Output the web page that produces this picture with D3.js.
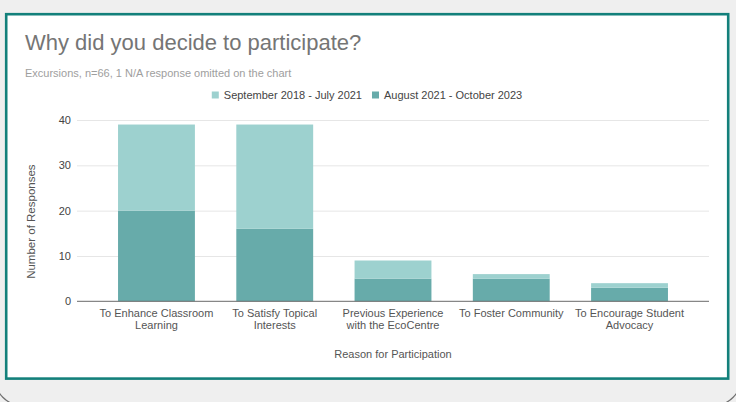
<!DOCTYPE html>
<html>
<head>
<meta charset="utf-8">
<script src="https://cdn.jsdelivr.net/npm/d3@7/dist/d3.min.js"></script>
<style>
  html, body { margin: 0; padding: 0; background: #efefef; }
  svg { display: block; }
  text { font-family: "Liberation Sans", Arial, sans-serif; }
</style>
</head>
<body>
<svg id="chart" width="736" height="402"></svg>
<script>
// Reasons given for joining an excursion, split by program period
const categories = [
  "To Enhance Classroom Learning",
  "To Satisfy Topical Interests",
  "Previous Experience with the EcoCentre",
  "To Foster Community",
  "To Encourage Student Advocacy"
];
const seriesNames = ["September 2018 - July 2021", "August 2021 - October 2023"];
const earlierPeriod = [19, 23, 4, 1, 1];
const laterPeriod = [20, 16, 5, 5, 3];
const yTicks = [0, 10, 20, 30, 40];

const svg = d3.select("#chart");
const W = 736, H = 402;

// page background and card
svg.append("rect").attr("width", W).attr("height", H).attr("fill", "#efefef");
svg.append("rect")
  .attr("x", -6).attr("y", -60).attr("width", 748).attr("height", 466)
  .attr("rx", 30).attr("ry", 30)
  .attr("fill", "none").attr("stroke", "#6f6f6f").attr("stroke-width", 1.2);
svg.append("rect")
  .attr("x", 6.2).attr("y", 14.2).attr("width", 722).attr("height", 364.4)
  .attr("fill", "#ffffff").attr("stroke", "#13807b").attr("stroke-width", 2.6);

// title block
svg.append("text").attr("x", 25).attr("y", 50)
  .attr("font-size", 22).attr("fill", "#757575")
  .text("Why did you decide to participate?");
svg.append("text").attr("x", 25).attr("y", 76.5)
  .attr("font-size", 11).attr("fill", "#9e9e9e")
  .text("Excursions, n=66, 1 N/A response omitted on the chart");

const colors = ["#9dd1cf", "#67abaa"];

// scales
const plot = { left: 77, right: 709, top: 120, bottom: 301.3 };
const x = d3.scaleBand().domain(categories)
  .range([plot.left, plot.right]).paddingInner(0.35).paddingOuter(0.347);
const y = d3.scaleLinear().domain([0, 40]).range([plot.bottom, plot.top]);

// gridlines via axis
const grid = svg.append("g")
  .attr("transform", `translate(${plot.left},0)`)
  .call(d3.axisLeft(y).tickValues(yTicks.filter(d => d > 0))
    .tickSize(-(plot.right - plot.left)).tickFormat(""));
grid.select(".domain").remove();
grid.selectAll("line").attr("stroke", "#e6e6e6").attr("stroke-width", 1);

// y tick labels
const yAxis = svg.append("g")
  .attr("transform", `translate(${plot.left - 6},0)`)
  .call(d3.axisLeft(y).tickValues(yTicks).tickSize(0).tickPadding(0));
yAxis.select(".domain").remove();
yAxis.selectAll("text")
  .attr("font-size", 11).attr("fill", "#444444")
  .attr("font-family", "Liberation Sans, Arial, sans-serif");

// stacked bars
const rows = categories.map((c, i) => ({ cat: c, later: laterPeriod[i], earlier: earlierPeriod[i] }));
const stack = d3.stack().keys(["later", "earlier"])(rows);
const stackColors = { later: colors[1], earlier: colors[0] };

svg.append("g").selectAll("g").data(stack).join("g")
  .attr("fill", d => stackColors[d.key])
  .selectAll("rect").data(d => d).join("rect")
  .attr("x", d => x(d.data.cat))
  .attr("width", x.bandwidth())
  .attr("y", d => y(d[1]))
  .attr("height", d => y(d[0]) - y(d[1]));

// baseline
svg.append("line")
  .attr("x1", plot.left).attr("x2", plot.right)
  .attr("y1", y(0)).attr("y2", y(0))
  .attr("stroke", "#6a6a6a").attr("stroke-width", 1);

// x axis category labels, wrapped to the band step
const xAxis = svg.append("g")
  .attr("transform", `translate(0,${plot.bottom})`)
  .call(d3.axisBottom(x).tickSize(0).tickPadding(0));
xAxis.select(".domain").remove();
xAxis.selectAll("text")
  .attr("font-size", 11).attr("fill", "#555555")
  .attr("font-family", "Liberation Sans, Arial, sans-serif")
  .attr("dy", null).attr("y", null)
  .each(function (d) {
    const t = d3.select(this);
    const words = d.split(" ");
    t.text(null);
    const maxW = x.step() - 2;
    let line = [];
    let lineNo = 0;
    let tspan = t.append("tspan").attr("x", 0).attr("y", 16);
    for (const w of words) {
      line.push(w);
      tspan.text(line.join(" "));
      if (tspan.node().getComputedTextLength() > maxW && line.length > 1) {
        line.pop();
        tspan.text(line.join(" "));
        line = [w];
        lineNo++;
        tspan = t.append("tspan").attr("x", 0).attr("y", 16 + lineNo * 12).text(w);
      }
    }
  });

// axis titles
svg.append("text")
  .attr("transform", `translate(34.5,${(plot.top + plot.bottom) / 2 + 11}) rotate(-90)`)
  .attr("text-anchor", "middle").attr("font-size", 11.5).attr("fill", "#555555")
  .text("Number of Responses");
svg.append("text")
  .attr("x", (plot.left + plot.right) / 2).attr("y", 358)
  .attr("text-anchor", "middle").attr("font-size", 11).attr("fill", "#555555")
  .text("Reason for Participation");

// legend, centred in the card
const legend = svg.append("g");
const items = legend.selectAll("g").data(seriesNames).join("g");
items.append("rect").attr("width", 7).attr("height", 7).attr("y", -7)
  .attr("fill", (d, i) => colors[i]);
items.append("text").attr("x", 12).attr("y", 0)
  .attr("font-size", 11).attr("fill", "#444444").text(d => d);
let offset = 0;
items.each(function () {
  const g = d3.select(this);
  g.attr("transform", `translate(${offset},0)`);
  offset += 12 + g.select("text").node().getComputedTextLength() + 10;
});
const legendW = offset - 10;
legend.attr("transform", `translate(${367 - legendW / 2},98.5)`);
</script>
</body>
</html>
